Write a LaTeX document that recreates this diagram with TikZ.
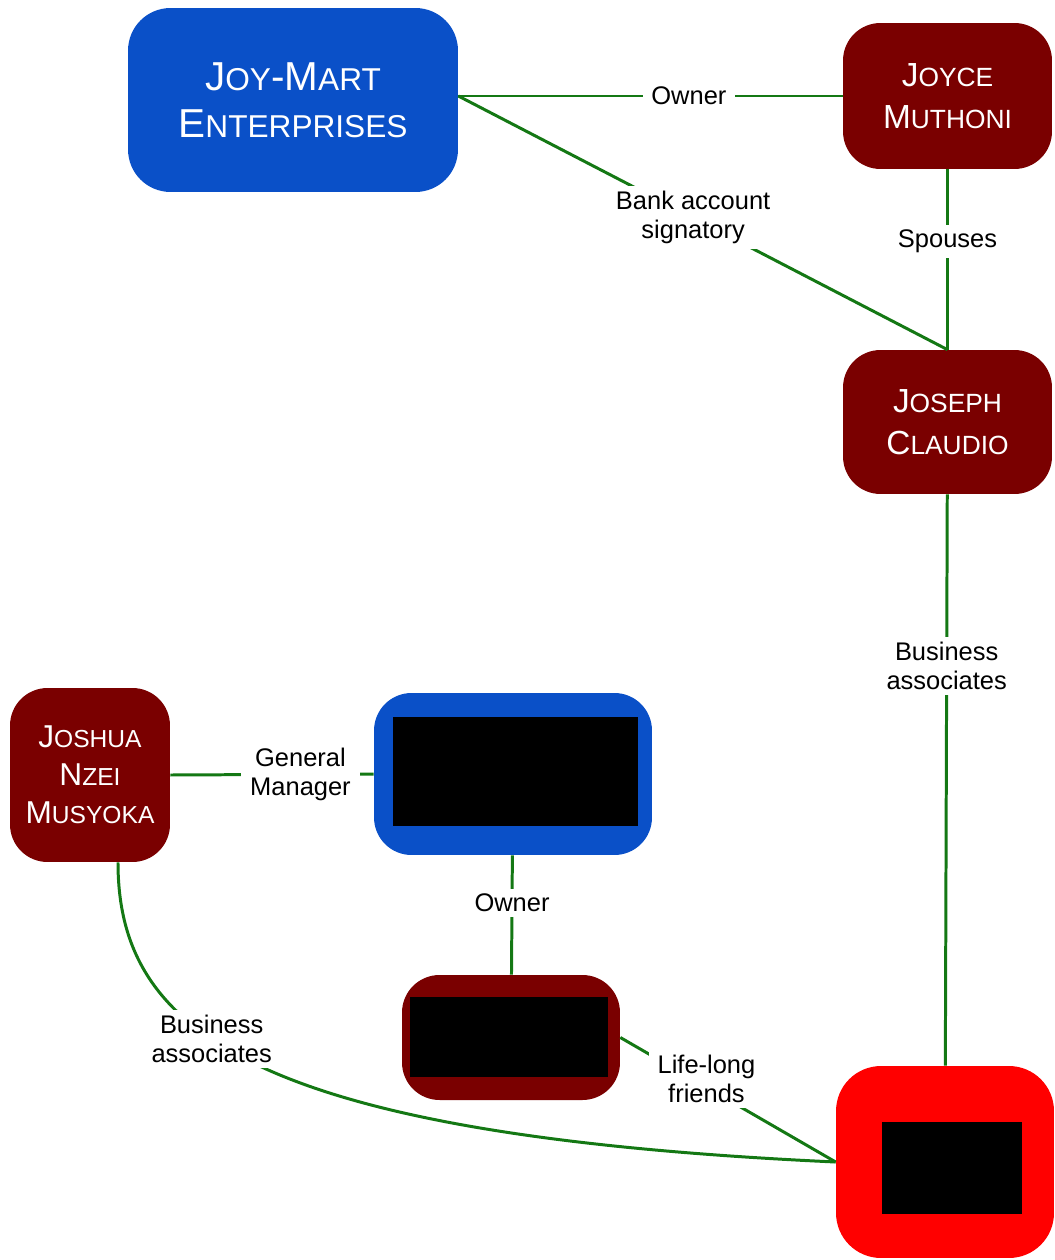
\documentclass[tikz,border=0pt]{standalone}
\usepackage{fontspec}
\setmainfont{Liberation Sans}
\definecolor{coblue}{RGB}{10,80,200}
\definecolor{maroon}{RGB}{122,0,0}
\definecolor{linkgreen}{RGB}{20,120,20}
\def\smcsize{14}
\newcommand\smc[1]{{\fontsize{\smcsize}{0pt}\selectfont #1}}

\begin{document}
\begin{tikzpicture}[x=0.02cm, y=-0.02cm,
	box/.style={rounded corners=0.75cm, text=white, align=center, inner sep=0pt},
	company/.style={box, fill=coblue},
	person/.style={box, fill=maroon},
	hot/.style={box, fill=red, rounded corners=0.9cm},
	redact/.style={fill=black, inner sep=0pt},
	link/.style={draw=linkgreen, line width=1.7pt},
	lbl/.style={fill=white, text=black, align=center, inner xsep=5pt, inner ysep=3pt, font=\fontsize{14.5}{16.5}\selectfont}]
		%%%%% START %%%%%
		
		\useasboundingbox (0, 0) rectangle (1054, 1260);
		
		\node[company, minimum width=6.6cm, minimum height=3.68cm, rounded corners=0.85cm, font={\fontsize{23}{27}\selectfont\def\smcsize{18}}] (joymart) at (293, 100) {J\smc{OY}-M\smc{ART}\\E\smc{NTERPRISES}};
		\node[person, minimum width=4.18cm, minimum height=2.92cm, font={\fontsize{19}{24}\selectfont\def\smcsize{15}}] (joyce) at (947.5, 96) {J\smc{OYCE}\\M\smc{UTHONI}};
		\node[person, minimum width=4.18cm, minimum height=2.88cm, font={\fontsize{19}{24}\selectfont\def\smcsize{15}}] (joseph) at (947.5, 422) {J\smc{OSEPH}\\C\smc{LAUDIO}};
		
		\node[person, minimum width=3.2cm, minimum height=3.48cm, font={\fontsize{18}{21.5}\selectfont\def\smcsize{14}}] (joshua) at (90, 775) {J\smc{OSHUA}\\N\smc{ZEI}\\M\smc{USYOKA}};
		
		\node[company, minimum width=5.56cm, minimum height=3.24cm] (firm) at (513, 774) {};
		\node[redact, minimum width=4.9cm, minimum height=2.18cm] (firmmask) at (515.5, 771.5) {};
		
		\node[person, minimum width=4.36cm, minimum height=2.5cm] (firmowner) at (511, 1037.5) {};
		\node[redact, minimum width=3.96cm, minimum height=1.6cm] (ownermask) at (509, 1037) {};
		
		\node[hot, minimum width=4.36cm, minimum height=3.84cm] (subject) at (945, 1162) {};
		\node[redact, minimum width=2.8cm, minimum height=1.84cm] (subjectmask) at (952, 1168) {};
		
		% links
		\draw[link] (joymart.east |- joyce) -- node[lbl, pos=.6] {Owner} (joyce.west);
		\draw[link] (joymart.east |- joyce) -- node[lbl, pos=.48] {Bank account\\signatory} (joseph.north);
		\draw[link] (joyce) -- node[lbl, pos=.4] {Spouses} (joseph);
		\draw[link] (joseph) -- node[lbl, pos=.3] {Business\\associates} (subject);
		
		\draw[link] (joshua.east) -- node[lbl, pos=.64] {General\\Manager} (firm.west);
		\draw[link] (firm) -- node[lbl, pos=.4] {Owner} (firmowner);
		\draw[link] (firmowner.east) -- node[lbl, pos=.4, yshift=5pt] {Life-long\\friends} (subject.west);
		\draw[link] ([xshift=0.56cm]joshua.south) .. controls (118, 1030) and (250, 1135) .. node[lbl, pos=.42] {Business\\associates} (subject.west);
		
		%%%%% END %%%%%
\end{tikzpicture}
\end{document}
